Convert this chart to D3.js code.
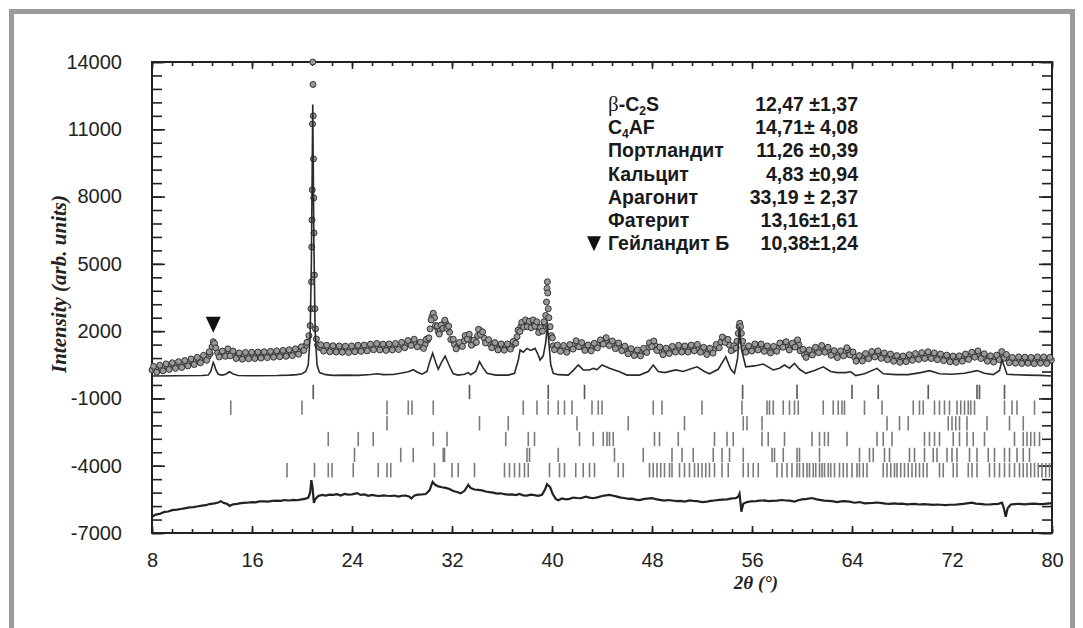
<!DOCTYPE html>
<html>
<head>
<meta charset="utf-8">
<script src="https://cdn.jsdelivr.net/npm/d3@7"></script>
<style>
  body { margin: 0; background: #fff; }
  svg { display: block; }
</style>
</head>
<body>
<svg id="chart"></svg>
<script>
// observed pattern, [2theta, intensity]
var observed = [
  [8,270],[8.25,310],[8.5,300],[8.75,360],[9,370],[9.25,420],[9.5,430],[9.75,470],[10,470],[10.25,520],[10.5,520],[10.75,580],
  [11,590],[11.25,640],[11.5,660],[11.75,720],[12,740],[12.25,810],[12.5,870],[12.65,1000],[12.8,1300],[12.9,1530],[13,1450],[13.1,1250],
  [13.25,1030],[13.5,960],[13.75,990],[14,1050],[14.15,1090],[14.35,1000],[14.6,940],[14.85,890],[15.1,900],[15.35,880],[15.6,930],[15.85,890],
  [16.1,940],[16.35,900],[16.6,950],[16.85,920],[17.1,970],[17.35,940],[17.6,990],[17.85,960],[18.1,1010],[18.35,980],[18.6,1030],[18.85,1000],
  [19.1,1060],[19.35,1040],[19.6,1100],[19.85,1110],[20.05,1220],[20.25,1330],[20.4,1500],[20.55,1800],[20.65,2250],[20.72,3000],[20.76,4200],
  [20.78,5750],[20.8,6960],[20.82,8300],[20.84,11240],[20.86,14000],[20.88,13000],[20.9,11600],[20.92,9680],[20.94,7940],[20.96,6380],[20.99,4500],
  [21.03,3000],[21.08,2100],[21.15,1650],[21.25,1380],[21.4,1270],[21.6,1230],[21.85,1280],[22.1,1190],[22.35,1250],[22.6,1180],[22.85,1240],
  [23.1,1170],[23.35,1230],[23.6,1160],[23.85,1220],[24.1,1190],[24.35,1250],[24.6,1210],[24.85,1270],[25.1,1220],[25.35,1290],[25.6,1280],
  [25.85,1340],[26.1,1280],[26.35,1320],[26.6,1250],[26.85,1310],[27.1,1270],[27.35,1330],[27.6,1290],[27.85,1360],[28.1,1370],[28.35,1430],
  [28.6,1460],[28.85,1540],[29.1,1470],[29.35,1410],[29.6,1340],[29.85,1410],[30.05,1600],[30.25,2100],[30.4,2650],[30.5,2800],[30.6,2600],
  [30.75,2200],[30.9,1980],[31.05,2050],[31.2,2200],[31.35,2330],[31.5,2350],[31.65,2200],[31.8,1950],[32,1600],[32.2,1400],[32.45,1310],
  [32.7,1380],[32.95,1550],[33.15,1750],[33.3,1830],[33.45,1600],[33.65,1420],[33.85,1500],[34.05,1800],[34.2,2050],[34.35,1950],[34.55,1700],
  [34.8,1530],[35.05,1430],[35.3,1370],[35.55,1330],[35.8,1270],[36.05,1310],[36.3,1260],[36.55,1330],[36.8,1350],[37,1460],[37.2,1750],
  [37.35,2050],[37.5,2200],[37.65,2300],[37.8,2350],[37.95,2380],[38.1,2320],[38.25,2270],[38.4,2330],[38.55,2390],[38.7,2350],[38.85,2200],
  [39,1980],[39.15,2060],[39.3,2200],[39.42,2350],[39.5,2700],[39.56,3300],[39.6,3900],[39.63,4200],[39.66,3700],[39.7,3000],[39.75,2600],
  [39.85,2200],[39.95,1800],[40.1,1350],[40.3,1270],[40.55,1210],[40.8,1260],[41.05,1180],[41.3,1220],[41.55,1290],[41.8,1390],[42.05,1460],
  [42.25,1410],[42.5,1290],[42.75,1260],[43,1220],[43.25,1290],[43.5,1340],[43.75,1430],[44,1510],[44.2,1600],[44.45,1530],[44.7,1460],
  [44.95,1370],[45.2,1350],[45.45,1300],[45.7,1240],[45.95,1140],[46.2,1110],[46.45,1050],[46.7,1040],[46.95,1000],[47.2,1060],[47.45,1110],
  [47.7,1260],[47.9,1410],[48.05,1480],[48.25,1350],[48.5,1210],[48.75,1090],[49,1090],[49.25,1110],[49.5,1160],[49.75,1190],[50,1230],
  [50.25,1220],[50.5,1200],[50.75,1190],[51,1240],[51.25,1240],[51.5,1290],[51.75,1240],[52,1170],[52.25,1110],[52.5,1090],[52.75,1110],
  [53,1210],[53.25,1310],[53.5,1510],[53.75,1680],[53.95,1600],[54.2,1380],[54.45,1170],[54.65,1250],[54.8,1550],[54.9,1900],[54.97,2200],
  [55.02,2350],[55.08,2200],[55.15,1900],[55.25,1550],[55.4,1250],[55.6,1160],[55.85,1240],[56.1,1260],[56.35,1310],[56.6,1300],[56.85,1270],
  [57.1,1210],[57.35,1190],[57.6,1150],[57.85,1210],[58.1,1270],[58.35,1390],[58.6,1460],[58.85,1320],[59.1,1290],[59.35,1340],[59.55,1530],
  [59.75,1400],[59.95,1150],[60.2,950],[60.45,990],[60.7,1040],[60.95,1120],[61.2,1150],[61.45,1210],[61.7,1220],[61.95,1180],[62.2,1090],
  [62.45,1030],[62.7,940],[62.95,970],[63.2,990],[63.45,1090],[63.7,1160],[63.95,1000],[64.2,850],[64.45,750],[64.7,790],[64.95,820],
  [65.2,890],[65.45,920],[65.7,980],[65.95,1010],[66.2,950],[66.45,910],[66.7,870],[66.95,870],[67.2,810],[67.45,800],[67.7,750],[67.95,750],
  [68.2,760],[68.45,810],[68.7,810],[68.95,860],[69.2,860],[69.45,900],[69.7,900],[69.95,940],[70.2,940],[70.45,900],[70.7,890],[70.95,850],
  [71.2,840],[71.45,790],[71.7,790],[71.95,750],[72.2,760],[72.45,740],[72.7,790],[72.95,810],[73.2,870],[73.45,890],[73.7,960],[73.95,1010],
  [74.2,950],[74.45,890],[74.7,810],[74.95,790],[75.2,740],[75.45,770],[75.7,810],[75.9,930],[76.05,980],[76.25,870],[76.45,770],[76.7,680],
  [76.95,710],[77.2,710],[77.45,710],[77.7,680],[77.95,720],[78.2,690],[78.45,690],[78.7,690],[78.95,730],[79.2,690],[79.45,720],[79.7,680],[79.95,710]
];

// scan points lying between the above, read as the scatter width of the band
var observedBetween = [
  [8.125,430],[8.375,170],[8.625,480],[8.875,230],[9.125,540],[9.375,290],[9.625,590],[9.875,340],[10.125,640],[10.375,380],[10.625,690],
  [10.875,450],[11.125,760],[11.375,510],[11.625,830],[11.875,590],[12.125,920],[12.375,700],[12.58,1075],[13.375,850],[13.625,1110],
  [13.875,880],[14.075,1210],[14.25,900],[14.475,1110],[14.725,780],[14.975,1030],[15.225,750],[15.475,1050],[15.725,770],[15.975,1060],
  [16.225,780],[16.475,1070],[16.725,800],[16.975,1080],[17.225,820],[17.475,1100],[17.725,840],[17.975,1120],[18.225,860],[18.475,1140],
  [18.725,880],[18.975,1170],[19.225,910],[19.475,1210],[19.725,970],[19.95,1300],[20.15,1140],
  [21.5,1390],[21.725,1110],[21.975,1370],[22.225,1080],[22.475,1350],[22.725,1070],[22.975,1340],[23.225,1060],[23.475,1330],[23.725,1050],
  [23.975,1340],[24.225,1080],[24.475,1370],[24.725,1100],[24.975,1380],[25.225,1120],[25.475,1420],[25.725,1170],[25.975,1450],[26.225,1160],
  [26.475,1420],[26.725,1140],[26.975,1430],[27.225,1160],[27.475,1450],[27.725,1180],[27.975,1500],[28.225,1260],[28.475,1580],[28.725,1360],
  [28.975,1640],[29.225,1300],[29.475,1510],[29.725,1230],[29.95,1640],[30.15,1700],[30.33,2500],[30.68,2250],[30.83,2230],[30.98,1870],
  [31.13,2270],[31.28,2120],[31.43,2490],[31.58,2130],[31.73,2220],[31.9,1630],[32.1,1640],[32.33,1210],[32.58,1490],[32.83,1320],[33.05,1800],
  [33.22,1650],[33.38,1860],[33.55,1370],[33.75,1600],[33.95,1500],[34.12,2080],[34.28,1850],[34.45,1970],[34.68,1470],[34.93,1620],[35.18,1260],
  [35.43,1490],[35.68,1160],[35.93,1430],[36.18,1150],[36.43,1430],[36.68,1200],[36.9,1540],[37.1,1460],[37.28,2040],[37.43,1980],[37.58,2390],
  [37.73,2180],[37.88,2500],[38.03,2200],[38.18,2440],[38.33,2150],[38.48,2500],[38.63,2220],[38.78,2420],[38.93,1940],[39.08,2160],[39.23,2000],
  [39.36,2420],[40.03,1700],[40.2,1170],[40.43,1380],[40.68,1100],[40.93,1360],[41.18,1060],[41.43,1400],[41.68,1200],[41.93,1570],[42.15,1300],
  [42.38,1490],[42.63,1140],[42.88,1380],[43.13,1120],[43.38,1460],[43.63,1250],[43.88,1610],[44.1,1420],[44.33,1710],[44.58,1360],[44.83,1560],
  [45.08,1220],[45.33,1470],[45.58,1130],[45.83,1330],[46.08,990],[46.33,1220],[46.58,910],[46.83,1160],[47.08,900],[47.33,1230],[47.58,1050],
  [47.8,1480],[47.98,1310],[48.15,1560],[48.38,1140],[48.63,1290],[48.88,950],[49.13,1240],[49.38,1000],[49.63,1320],[49.88,1070],[50.13,1370],
  [50.38,1070],[50.63,1340],[50.88,1070],[51.13,1380],[51.38,1120],[51.63,1410],[51.88,1060],[52.13,1280],[52.38,960],[52.63,1240],[52.88,1020],
  [53.13,1400],[53.38,1260],[53.63,1740],[53.85,1500],[54.08,1630],[54.33,1130],[54.55,1350],[54.73,1250],
  [55.5,1060],[55.73,1340],[55.98,1110],[56.23,1430],[56.48,1160],[56.73,1430],[56.98,1100],[57.23,1340],[57.48,1030],[57.73,1320],[57.98,1100],
  [58.23,1470],[58.48,1280],[58.73,1530],[58.98,1160],[59.23,1460],[59.45,1290],[59.65,1610],[59.85,1130],[60.08,1190],[60.33,830],[60.58,1160],
  [60.83,940],[61.08,1280],[61.33,1040],[61.58,1360],[61.83,1060],[62.08,1280],[62.33,920],[62.58,1130],[62.83,820],[63.08,1120],[63.33,900],
  [63.58,1260],[63.83,940],[64.08,1070],[64.33,660],[64.58,910],[64.83,670],[65.08,1000],[65.33,770],[65.58,1090],[65.83,850],[66.08,1120],
  [66.33,790],[66.58,1030],[66.83,730],[67.08,980],[67.33,660],[67.58,910],[67.83,610],[68.08,890],[68.33,640],[68.58,950],[68.83,700],
  [69.08,1000],[69.33,740],[69.58,1040],[69.83,780],[70.08,1080],[70.33,780],[70.58,1030],[70.83,730],[71.08,980],[71.33,680],[71.58,930],
  [71.83,630],[72.08,890],[72.33,610],[72.58,900],[72.83,660],[73.08,980],[73.33,740],[73.58,1060],[73.83,840],[74.08,1120],[74.33,780],
  [74.58,990],[74.83,660],[75.08,900],[75.33,620],[75.58,930],[75.8,730],[75.98,1090],[76.15,790],[76.35,960],[76.58,590],[76.83,830],
  [77.08,570],[77.33,850],[77.58,560],[77.83,840],[78.08,570],[78.33,830],[78.58,550],[78.83,850],[79.08,570],[79.33,850],[79.58,560],[79.83,830]
];

// calculated profile (background removed)
var calculated = [
  [8,0],[10,10],[12,20],[12.5,40],[12.7,200],[12.8,400],[12.9,600],[13,480],[13.1,280],[13.3,80],[13.6,40],[13.9,80],[14.2,190],[14.5,90],
  [14.9,20],[16,10],[18,20],[19,40],[19.6,60],[20,100],[20.3,200],[20.5,500],[20.65,1800],[20.75,5000],[20.86,12100],[20.95,6000],[21.05,2000],
  [21.2,500],[21.4,150],[21.9,60],[22.5,30],[23.5,40],[24.5,30],[25.5,70],[26,100],[26.5,60],[27.3,70],[28,130],[28.5,190],[28.9,280],
  [29.2,180],[29.6,80],[30,200],[30.2,600],[30.45,1010],[30.7,600],[30.9,300],[31.15,600],[31.45,890],[31.75,500],[32.1,100],[32.5,40],
  [33,80],[33.3,150],[33.5,60],[33.9,200],[34.2,640],[34.5,350],[34.8,120],[35.5,40],[36.5,40],[37,120],[37.3,700],[37.45,1160],[37.7,1060],
  [38,1230],[38.3,1140],[38.64,1230],[38.85,1000],[39.05,710],[39.3,900],[39.5,1500],[39.63,2270],[39.75,1500],[39.9,500],[40.1,120],[40.5,60],
  [41.3,40],[41.7,250],[42.1,490],[42.5,270],[43,270],[43.3,340],[43.6,290],[44,490],[44.6,350],[45.4,190],[46,40],[47,40],[47.7,200],
  [48.1,490],[48.5,200],[49,150],[49.9,270],[50.5,200],[51,300],[51.6,410],[52.2,200],[52.6,100],[53.3,300],[53.9,860],[54.3,300],[54.6,120],
  [54.85,800],[55,2200],[55.15,1200],[55.5,410],[56.2,450],[56.9,535],[57.7,270],[58.2,350],[58.6,490],[59,350],[59.4,565],[59.8,300],
  [60.3,120],[61,250],[61.7,410],[62.3,200],[62.8,150],[63.5,150],[63.9,190],[64.3,20],[65,100],[66,340],[66.5,100],[67.5,60],[68.5,60],
  [69.5,150],[70.2,240],[71,100],[72,80],[73,120],[74,240],[74.6,120],[75.3,60],[75.8,250],[76,710],[76.2,400],[76.4,80],[77,60],[78,40],
  [79,30],[80,0]
];

// observed - calculated, shifted down
var difference = [
  [8,-6275],[8.3,-6180],[8.6,-6150],[9,-6060],[9.3,-6040],[9.6,-5980],[10,-5960],[10.3,-5930],[10.6,-5900],[11,-5860],[11.3,-5850],[11.6,-5820],
  [12,-5780],[12.3,-5760],[12.6,-5710],[13,-5680],[13.3,-5640],[13.5,-5580],[13.7,-5650],[14,-5700],[14.2,-5790],[14.5,-5720],[14.8,-5700],
  [15,-5680],[15.3,-5660],[15.6,-5650],[16,-5620],[16.3,-5630],[16.6,-5590],[17,-5590],[17.3,-5600],[17.6,-5570],[18,-5560],[18.3,-5570],
  [18.6,-5530],[19,-5550],[19.3,-5520],[19.6,-5540],[20,-5500],[20.3,-5470],[20.5,-5420],[20.65,-5200],[20.75,-4640],[20.85,-5000],[20.95,-5660],
  [21.05,-5500],[21.3,-5350],[21.6,-5300],[21.9,-5330],[22.2,-5290],[22.5,-5300],[22.8,-5270],[23.1,-5330],[23.4,-5260],[23.7,-5290],[24,-5280],
  [24.4,-5220],[24.7,-5300],[25,-5280],[25.3,-5340],[25.6,-5300],[25.9,-5330],[26.2,-5350],[26.5,-5320],[26.8,-5340],[27.1,-5350],[27.4,-5330],
  [27.7,-5380],[28,-5340],[28.3,-5330],[28.6,-5380],[28.75,-5460],[29,-5330],[29.3,-5290],[29.6,-5280],[29.9,-5260],[30.2,-5100],[30.45,-4720],
  [30.65,-4850],[30.9,-4920],[31.2,-4960],[31.5,-4990],[31.8,-5040],[32.1,-5130],[32.4,-5170],[32.7,-5230],[33,-5120],[33.3,-4860],[33.5,-5000],
  [33.8,-5060],[34.1,-5080],[34.4,-5100],[34.7,-5150],[35,-5180],[35.3,-5200],[35.6,-5240],[35.9,-5230],[36.2,-5270],[36.5,-5290],[36.8,-5280],
  [37.1,-5310],[37.4,-5260],[37.7,-5320],[38,-5330],[38.3,-5290],[38.6,-5310],[38.9,-5340],[39.2,-5300],[39.45,-5050],[39.6,-4820],[39.85,-4950],
  [40.05,-5250],[40.3,-5480],[40.5,-5540],[40.8,-5460],[41.1,-5500],[41.4,-5480],[41.7,-5420],[42,-5440],[42.3,-5450],[42.7,-5380],[43,-5420],
  [43.3,-5450],[43.7,-5400],[44,-5350],[44.3,-5320],[44.6,-5300],[44.9,-5340],[45.2,-5380],[45.5,-5420],[45.8,-5440],[46.1,-5480],[46.4,-5470],
  [46.7,-5510],[47,-5530],[47.3,-5490],[47.6,-5470],[48,-5450],[48.3,-5490],[48.6,-5520],[49,-5560],[49.3,-5530],[49.6,-5550],[50,-5580],
  [50.3,-5570],[50.6,-5600],[51,-5550],[51.3,-5570],[51.6,-5580],[52,-5620],[52.4,-5600],[52.7,-5570],[53,-5550],[53.4,-5520],[53.7,-5510],
  [54,-5500],[54.4,-5460],[54.7,-5450],[54.9,-5380],[55,-5250],[55.08,-5650],[55.15,-6050],[55.3,-5700],[55.6,-5620],[55.9,-5590],[56.3,-5580],
  [56.6,-5560],[57,-5550],[57.3,-5580],[57.6,-5570],[58,-5560],[58.4,-5530],[58.7,-5550],[59,-5560],[59.4,-5600],[59.7,-5540],[60,-5500],
  [60.4,-5480],[60.8,-5440],[61.1,-5490],[61.4,-5520],[61.8,-5560],[62.1,-5570],[62.4,-5580],[62.8,-5620],[63.1,-5590],[63.4,-5580],[63.8,-5600],
  [64.2,-5650],[64.6,-5620],[65,-5680],[65.3,-5670],[65.7,-5660],[66,-5640],[66.4,-5670],[66.7,-5690],[67,-5700],[67.4,-5680],[67.7,-5700],
  [68,-5690],[68.4,-5720],[68.7,-5710],[69,-5700],[69.4,-5730],[69.7,-5710],[70,-5720],[70.5,-5750],[70.8,-5730],[71.1,-5740],[71.5,-5760],
  [71.8,-5740],[72.2,-5740],[72.5,-5720],[72.9,-5700],[73.2,-5680],[73.6,-5650],[73.9,-5690],[74.2,-5700],[74.6,-5720],[75,-5730],[75.3,-5710],
  [75.7,-5700],[76,-5650],[76.15,-5900],[76.3,-6275],[76.45,-5900],[76.7,-5730],[77,-5710],[77.4,-5700],[77.8,-5720],[78.2,-5700],[78.6,-5690],
  [79,-5710],[79.4,-5700],[79.8,-5680],[80,-5680]
];

// Bragg reflection positions per phase row (2theta)
var braggRows = [
  [20.9,33.4,39.7,42.6,55.25,59.6,64.0,66.1,70.1,74.0,74.2,76.2],
  [14.3,20.0,26.8,28.5,28.8,30.5,37.7,38.8,39.7,40.5,41.0,41.6,43.2,43.7,44.0,48.1,48.8,52.0,55.2,57.2,57.4,57.7,58.5,59.0,59.4,59.7,61.7,
   62.5,62.9,63.2,63.4,65.0,66.4,68.9,69.4,69.7,70.6,71.0,71.4,71.8,72.4,72.7,73.0,73.3,73.5,73.8,76.2,76.8,77.2,78.6],
  [26.8,34.2,36.5,42.0,46.1,50.6,55.3,55.6,56.8,66.8,67.8,68.5,71.7,72.0,72.3,72.6,73.2,74.8,76.6,77.7],
  [22.1,24.5,25.7,30.5,31.6,36.3,38.1,38.6,42.2,43.3,44.1,44.4,44.6,44.9,48.2,48.6,50.1,53.0,54.0,54.5,56.8,57.3,58.6,60.8,61.4,61.8,62.1,
   63.6,66.0,66.5,67.2,69.8,70.2,70.6,71.0,72.1,72.6,73.2,73.7,74.6,77.0,77.7,78.0,78.3,78.6,79.0],
  [24.2,27.9,28.9,31.3,31.4,38.0,38.2,40.5,45.0,47.3,49.6,50.4,51.3,52.9,53.6,54.2,55.3,57.6,57.8,58.5,59.6,59.8,61.4,64.6,65.4,65.7,66.6,
   67.0,68.6,69.0,69.8,70.5,70.8,71.6,72.0,72.4,73.4,74.0,74.9,75.4,76.2,76.6,77.2,77.7,78.2],
  [18.8,21.0,22.1,22.4,24.1,26.1,26.8,27.1,30.6,32.0,32.5,33.8,36.2,36.6,37.0,37.4,37.8,38.1,39.8,40.6,41.0,41.9,42.5,43.0,43.4,45.3,45.7,
   47.8,48.1,48.4,48.7,49.0,49.4,49.6,50.2,50.6,51.0,51.4,51.7,52.0,52.3,52.6,53.0,53.6,54.1,55.3,55.7,56.1,56.5,58.0,58.4,58.8,59.2,59.6,
   59.8,60.1,60.4,60.6,60.9,61.1,61.4,61.6,61.8,62.1,62.3,62.6,63.0,63.3,63.6,64.0,64.4,64.6,64.9,65.2,66.5,66.8,67.1,67.4,67.6,67.9,68.2,
   68.5,68.8,69.1,69.4,69.7,70.0,71.0,71.3,72.1,72.4,73.3,73.6,74.0,75.0,75.4,75.8,76.2,76.6,77.0,77.4,77.7,78.0,78.3,78.6,78.9,79.2,79.5,79.8]
];
var braggLevels = [-710, -1410, -2110, -2810, -3520, -4200];

// heulandite peak marker
var markerPeaks = [[12.9, 1530]];

// phase content, wt.%
var phaseNames = ["β-C_2S", "C_4AF", "Портландит", "Кальцит", "Арагонит", "Фатерит", "Гейландит Б"];
var phaseValues = ["12,47 ±1,37", "14,71± 4,08", "11,26 ±0,39", "4,83 ±0,94", "33,19 ± 2,37", "13,16±1,61", "10,38±1,24"];

var xTicks = [8, 16, 24, 32, 40, 48, 56, 64, 72, 80];
var yTicks = [14000, 11000, 8000, 5000, 2000, -1000, -4000, -7000];

var width = 1083, height = 628;
var svg = d3.select("#chart").attr("width", width).attr("height", height);

// grey page frame
svg.append("rect")
  .attr("x", 11.5).attr("y", 11.5)
  .attr("width", 1061).attr("height", 640)
  .attr("fill", "none")
  .attr("stroke", "#9b9b9b")
  .attr("stroke-width", 5);

var x = d3.scaleLinear().domain([8, 80]).range([152, 1052]);
var y = d3.scaleLinear().domain([-7000, 14000]).range([533, 62]);

var xMinor = d3.range(8, 80.01, 1.6);
var yMinor = d3.range(-7000, 14001, 600);

var labelFont = "'Liberation Sans', Arial, sans-serif";
var plain = function(d) { return String(d); };

function styleAxis(g) {
  g.select(".domain").remove();
  g.selectAll("line").attr("stroke", "#222").attr("stroke-width", 1.6);
  g.selectAll("text")
    .style("font-family", labelFont)
    .style("font-size", "20px")
    .attr("fill", "#222");
}

// minor ticks
svg.append("g").attr("transform", "translate(0,533)")
  .call(d3.axisBottom(x).tickValues(xMinor).tickSize(-4).tickFormat("")).call(styleAxis);
svg.append("g").attr("transform", "translate(0,62)")
  .call(d3.axisTop(x).tickValues(xMinor).tickSize(-4).tickFormat("")).call(styleAxis);
svg.append("g").attr("transform", "translate(152,0)")
  .call(d3.axisLeft(y).tickValues(yMinor).tickSize(-10).tickFormat("")).call(styleAxis);
svg.append("g").attr("transform", "translate(1052,0)")
  .call(d3.axisRight(y).tickValues(yMinor).tickSize(-10).tickFormat("")).call(styleAxis);

// major ticks + labels
svg.append("g").attr("transform", "translate(0,533)")
  .call(d3.axisBottom(x).tickValues(xTicks).tickSize(-7).tickPadding(20).tickFormat(plain)).call(styleAxis);
svg.append("g").attr("transform", "translate(0,62)")
  .call(d3.axisTop(x).tickValues(xTicks).tickSize(-7).tickFormat("")).call(styleAxis);
svg.append("g").attr("transform", "translate(152,0)")
  .call(d3.axisLeft(y).tickValues(yTicks).tickSize(-13).tickPadding(30).tickFormat(plain)).call(styleAxis);
svg.append("g").attr("transform", "translate(1052,0)")
  .call(d3.axisRight(y).tickValues(yTicks).tickSize(-13).tickFormat("")).call(styleAxis);

// plot frame
svg.append("rect")
  .attr("x", 152).attr("y", 62)
  .attr("width", 900).attr("height", 471)
  .attr("fill", "none")
  .attr("stroke", "#222")
  .attr("stroke-width", 2);

// Bragg ticks
braggRows.forEach(function(row, i) {
  svg.append("g").selectAll("line")
    .data(row)
    .enter().append("line")
    .attr("x1", function(d) { return x(d); })
    .attr("x2", function(d) { return x(d); })
    .attr("y1", y(braggLevels[i] + 320))
    .attr("y2", y(braggLevels[i] - 320))
    .attr("stroke", i == 0 ? "#555" : "#7a7a7a")
    .attr("stroke-width", 1.6);
});

// difference curve
var line = d3.line()
  .x(function(d) { return x(d[0]); })
  .y(function(d) { return y(d[1]); });

svg.append("path")
  .datum(difference)
  .attr("d", line)
  .attr("fill", "none")
  .attr("stroke", "#222")
  .attr("stroke-width", 2.2);

// observed points
svg.append("g").selectAll("circle")
  .data(observed.concat(observedBetween))
  .enter().append("circle")
  .attr("cx", function(d) { return x(d[0]); })
  .attr("cy", function(d) { return y(d[1]); })
  .attr("r", 3)
  .attr("fill", "#9a9a9a")
  .attr("stroke", "#333")
  .attr("stroke-width", 1);

// calculated curve
svg.append("path")
  .datum(calculated)
  .attr("d", line)
  .attr("fill", "none")
  .attr("stroke", "#2a2a2a")
  .attr("stroke-width", 1.6);

// peak marker
svg.selectAll(".marker")
  .data(markerPeaks)
  .enter().append("path")
  .attr("class", "marker")
  .attr("d", function(d) {
    var cx = x(d[0]), top = y(d[1]) - 25, bot = y(d[1]) - 9;
    return "M" + (cx - 7.5) + "," + top + "L" + (cx + 7.5) + "," + top + "L" + cx + "," + bot + "Z";
  })
  .attr("fill", "#111");

// axis titles
svg.append("text")
  .attr("transform", "translate(66,284) rotate(-90)")
  .attr("text-anchor", "middle")
  .style("font-family", "'Liberation Serif', 'Times New Roman', serif")
  .style("font-style", "italic")
  .style("font-weight", "bold")
  .style("font-size", "21px")
  .attr("fill", "#222")
  .text("Intensity (arb. units)");

svg.append("text")
  .attr("x", 756).attr("y", 589)
  .attr("text-anchor", "middle")
  .style("font-family", "'Liberation Serif', 'Times New Roman', serif")
  .style("font-style", "italic")
  .style("font-weight", "bold")
  .style("font-size", "19px")
  .attr("fill", "#222")
  .text("2θ (°)");

// phase table
var legend = svg.append("g")
  .style("font-family", labelFont)
  .style("font-weight", "bold")
  .style("font-size", "19.5px")
  .attr("fill", "#1a1a1a");

phaseNames.forEach(function(name, i) {
  var by = 111 + i * 23.2;
  var t = legend.append("text").attr("x", 608).attr("y", by);
  var parts = name.split("_");
  parts.forEach(function(p, k) {
    if (k > 0) {
      t.append("tspan").attr("dy", 4).style("font-size", "12px").text(p.charAt(0));
      p = p.slice(1);
      t.append("tspan").attr("dy", -4).text(p);
    } else if (p.charAt(0) == "β") {
      t.append("tspan")
        .style("font-family", "'Liberation Serif', serif")
        .style("font-weight", "normal")
        .style("font-size", "21px")
        .text("β");
      t.append("tspan").text(p.slice(1));
    } else {
      t.append("tspan").text(p);
    }
  });
  legend.append("text")
    .attr("x", 858).attr("y", by)
    .attr("text-anchor", "end")
    .text(phaseValues[i]);
});

// triangle in front of the last phase
var lastY = 111 + (phaseNames.length - 1) * 23.2;
legend.append("path")
  .attr("d", "M587," + (lastY - 14) + "L601," + (lastY - 14) + "L594," + (lastY + 1) + "Z")
  .attr("fill", "#111");
</script>
</body>
</html>
